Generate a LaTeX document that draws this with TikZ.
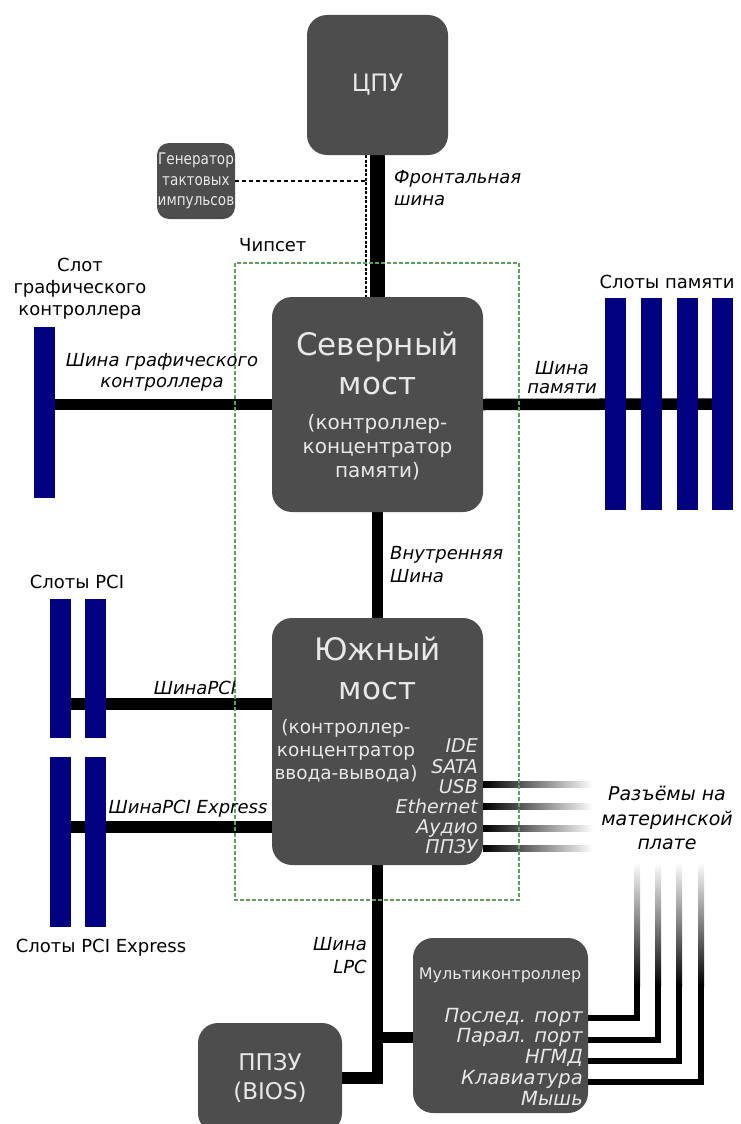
\documentclass[tikz,border=0pt]{standalone}
\usepackage{fontspec}
\setmainfont{DejaVu Sans}
\newfontfamily\narrowfont[FakeStretch=0.85]{DejaVu Sans}
\usepackage{xcolor}
\definecolor{chipgray}{RGB}{77,77,77}
\definecolor{chiptext}{RGB}{232,232,232}
\definecolor{slotblue}{RGB}{0,0,128}
\definecolor{setgreen}{RGB}{95,160,95}
\usepackage{tikz}
\usetikzlibrary{positioning}
\newcommand{\fs}[2]{\fontsize{#1}{#2}\selectfont}
\pgfdeclarelayer{fondo}
\pgfsetlayers{fondo,main}

\begin{document}
\begin{tikzpicture}[x=1pt, y=-1pt,
    chip/.style={fill=chipgray, text=chiptext, rounded corners=20pt, inner sep=0pt, align=center},
    slot/.style={fill=slotblue, inner sep=0pt, minimum width=21pt},
    bus/.style={line width=11.5pt, line join=miter},
    port/.style={line width=6pt, line join=miter},
    txt/.style={inner sep=0pt, align=center, font=\fs{18}{22}},
    bustxt/.style={txt, font=\fs{18}{21}\itshape},
    chiptxt/.style={txt, text=chiptext}]
    \useasboundingbox (0,0) rectangle (740,1124);
    % Микросхемы
    \node[chip, minimum width=141pt, minimum height=140pt, font=\fs{24}{28}] (cpu) at (377.5,85) {ЦПУ};
    \node[chip, rounded corners=12pt, minimum width=78pt, minimum height=76pt, font=\narrowfont\fs{16}{20.5}] (clk) at (196,181) {Генератор\\тактовых\\импульсов};
    \node[chip, minimum width=211pt, minimum height=215pt] (nb) at (377.5,404.5) {};
    \node[chip, minimum width=211pt, minimum height=247pt] (sb) at (377.5,741.5) {};
    \node[chip, minimum width=144pt, minimum height=110pt, font=\fs{23}{29}] (bios) at (270,1078) {ППЗУ\\(BIOS)};
    \node[chip, minimum width=175pt, minimum height=175pt] (mc) at (500.5,1025.5) {};
    % Тексты внутри мостов
    \node[chiptxt, font=\fs{31}{39}] (nbname) at (377.5,363) {Северный\\мост};
    \node[chiptxt, font=\fs{20}{24}] (nbsub) at (377.5,447) {(контроллер-\\концентратор\\памяти)};
    \node[chiptxt, font=\fs{31}{39}] (sbname) at (377.5,668) {Южный\\мост};
    \node[chiptxt, font=\fs{18.5}{23}] (sbsub) at (346,751) {(контроллер-\\концентратор\\ввода-вывода)};
    \node[chiptxt, align=right, anchor=east, font=\fs{19}{20.2}\itshape] (sbports) at (478,796.5) {IDE\\SATA\\USB\\Ethernet\\Аудио\\ППЗУ};
    \node[chiptxt, font=\fs{16}{20}] (mcname) at (500,975) {Мультиконтроллер};
    \node[chiptxt, align=right, anchor=east, font=\fs{19.5}{20.7}\itshape] (mcports) at (583,1056.5) {Послед. порт\\Парал. порт\\НГМД\\Клавиатура\\Мышь};
    % Слоты
    \node[slot, minimum height=171pt] (gslot) at (44,412.5) {};
    \foreach \i/\xx in {1/615.5,2/651.5,3/687.5,4/722.5}
        \node[slot, minimum height=212pt] (mem\i) at (\xx,404) {};
    \foreach \i/\xx in {1/60.5,2/95.5} {
        \node[slot, minimum height=139pt] (pci\i) at (\xx,668.5) {};
        \node[slot, minimum height=170pt] (pcie\i) at (\xx,842) {};
    }
    % Шины
    \coordinate (pcib) at (0,704);
    \coordinate (pcieb) at (0,827);
    \coordinate (lpcb) at ([yshift=-12pt]mc.west);
    \begin{pgfonlayer}{fondo}
        \draw[line width=15pt] (cpu.south) -- (nb.north);
        \draw[bus] (gslot.east |- nb.west) -- (nb.west);
        \draw[bus] (nb.east) -- (mem4.west);
        \draw[bus] (nb.south) -- (sb.north);
        \draw[bus] (pci1.east |- pcib) -- (pcib -| sb.west);
        \draw[bus] (pcie1.east |- pcieb) -- (pcieb -| sb.west);
        \draw[bus] (sb.south) |- (bios.east);
        \draw[bus] (sb.south |- lpcb) -- (lpcb);
    \end{pgfonlayer}
    % Тактовый сигнал
    \coordinate (fsbclk) at ([xshift=-11.5pt]cpu.south);
    \draw[line width=1.2pt, dash pattern=on 3pt off 1.5pt] (fsbclk) -- (fsbclk |- nb.north);
    \draw[line width=1.2pt, dash pattern=on 4pt off 3pt] (clk.east) -- (clk.east -| fsbclk);
    % Разъёмы южного моста
    \foreach \yy in {784,806,828,848}
        \shade[left color=black, right color=white] (sb.east |- 0,\yy) ++(0,-3) rectangle ++(110,6);
    \foreach \xx in {637,658,679,701}
        \shade[top color=white, bottom color=black] (\xx-3,862) rectangle (\xx+3,986);
    \foreach \xx/\yy in {637/1018,658/1040,679/1061,701/1082}
        \draw[port] (mc.east |- 0,\yy) -| (\xx,984);
    % Чипсет
    \draw[setgreen, line width=1.2pt, dash pattern=on 4pt off 2pt] (235,263) rectangle (519,900);
    \node[txt, anchor=west] (chipset) at (239,245) {Чипсет};
    % Подписи
    \node[txt] (gslotlbl) at (80,289) {Слот\\графического\\контроллера};
    \node[bustxt] (agplbl) at (162,372) {Шина графического\\контроллера};
    \node[bustxt, font=\fs{18}{19}\itshape] (memlbl) at (562,378) {Шина\\памяти};
    \node[txt] (memslbl) at (667,282) {Слоты памяти};
    \node[txt] (pcislbl) at (77,582) {Слоты PCI};
    \node[bustxt] (pcilbl) at (195,688) {ШинаPCI};
    \node[bustxt] (pcielbl) at (188,809) {ШинаPCI Express};
    \node[txt] (pcieslbl) at (101,948) {Слоты PCI Express};
    \node[bustxt, align=left, anchor=west, font=\fs{18}{22}\itshape] (fsblbl) at (394,188) {Фронтальная\\шина};
    \node[bustxt, align=left, anchor=west, font=\fs{18}{23}\itshape] (intlbl) at (390,564.5) {Внутренняя\\Шина};
    \node[bustxt, font=\fs{19}{24.5}\itshape] (conlbl) at (667,818) {Разъёмы на\\материнской\\плате};
    \node[bustxt, align=right, anchor=east, font=\fs{18}{23}\itshape] (lpclbl) at (367,956) {Шина\\LPC};
\end{tikzpicture}
\end{document}
